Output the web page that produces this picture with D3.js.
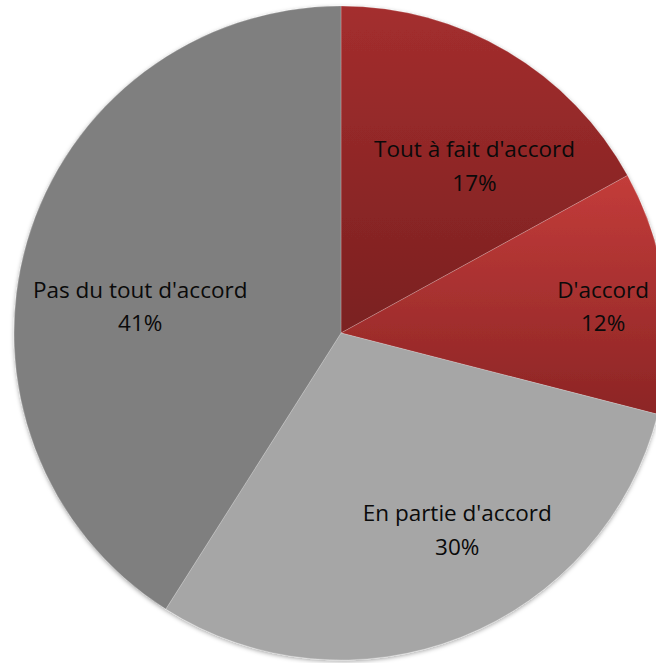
<!DOCTYPE html>
<html>
<head>
<meta charset="utf-8">
<script src="https://d3js.org/d3.v7.min.js"></script>
<style>
  html, body { margin: 0; padding: 0; background: #fff; overflow: hidden; }
  .lbl { font-family: "Open Sans", sans-serif; font-size: 22.5px; fill: #0a0a0a; text-anchor: middle; }
</style>
</head>
<body>
<script>
// data
const categories = ["Tout à fait d'accord", "D'accord", "En partie d'accord", "Pas du tout d'accord"];
const values = [17, 12, 30, 41];
// fills: top / bottom of each slice's vertical gradient
const colorsTop = ["#a42e2e", "#c33c3a", "#a6a6a6", "#7f7f7f"];
const colorsBottom = ["#7a2020", "#8c2525", "#a6a6a6", "#7f7f7f"];
// label nudge from centroid (px)
const labelNudge = [[17, 31], [35, 3], [32, -15], [19, 38]];

const width = 656, height = 663;
const cx = 341, cy = 333, r = 327;

const svg = d3.select('body').append('svg')
  .attr('width', width).attr('height', height);

const defs = svg.append('defs');

const shadow = defs.append('filter').attr('id', 'shadow')
  .attr('x', '-5%').attr('y', '-5%').attr('width', '110%').attr('height', '110%');
shadow.append('feDropShadow')
  .attr('dx', 0).attr('dy', 1.5).attr('stdDeviation', 2)
  .attr('flood-color', '#000').attr('flood-opacity', 0.35);

categories.forEach((c, i) => {
  const g = defs.append('linearGradient').attr('id', 'grad' + i)
    .attr('x1', 0).attr('y1', 0).attr('x2', 0).attr('y2', 1);
  g.append('stop').attr('offset', '0%').attr('stop-color', colorsTop[i]);
  g.append('stop').attr('offset', '100%').attr('stop-color', colorsBottom[i]);
});

const data = categories.map((c, i) => ({ name: c, value: values[i], i }));

const pie = d3.pie().sort(null).value(d => d.value);
const arcs = pie(data);

const arc = d3.arc().innerRadius(0).outerRadius(r);
const labelArc = d3.arc().innerRadius(r * 0.7).outerRadius(r * 0.7);

const g = svg.append('g').attr('transform', `translate(${cx},${cy})`);

g.append('g').attr('filter', 'url(#shadow)')
  .selectAll('path')
  .data(arcs)
  .join('path')
  .attr('d', arc)
  .attr('fill', d => `url(#grad${d.data.i})`)
  .attr('stroke', 'rgba(255,255,255,0.35)')
  .attr('stroke-width', 0.6);

const total = d3.sum(values);
const fmt = d3.format('.0%');

const labels = g.append('g').selectAll('text')
  .data(arcs)
  .join('text')
  .attr('class', 'lbl')
  .attr('transform', d => {
    const [x, y] = labelArc.centroid(d);
    const n = labelNudge[d.data.i];
    return `translate(${x + n[0]},${y + n[1]})`;
  });

labels.append('tspan').attr('x', 0).attr('y', -9.5).text(d => d.data.name);
labels.append('tspan').attr('x', 0).attr('y', 24).text(d => fmt(d.data.value / total));
</script>
</body>
</html>
